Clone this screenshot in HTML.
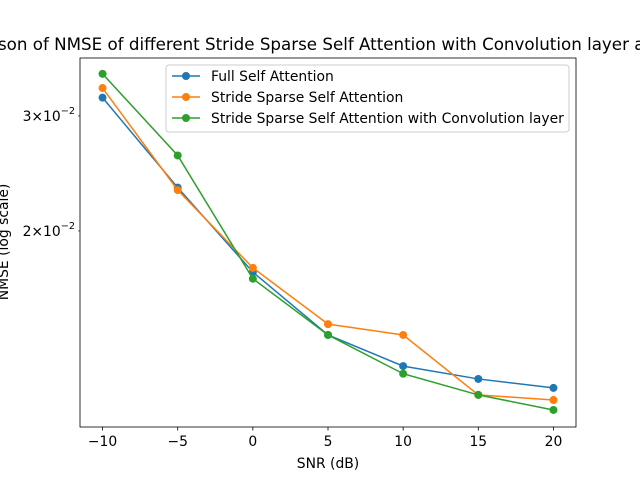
<!DOCTYPE html>
<html><head><meta charset="utf-8"><style>
body{margin:0;background:#fff;}
svg text{font-family:"DejaVu Sans","Liberation Sans",sans-serif;fill:#000;}
</style></head><body>
<svg id="chart" width="640" height="480" xmlns="http://www.w3.org/2000/svg">
<rect width="640" height="480" fill="#fff"/>
<text x="373" y="50" font-size="16.7" text-anchor="middle">Comparison of NMSE of different Stride Sparse Self Attention with Convolution layer and Full Self Attention</text>
<g id="axes"></g>
<g id="series"></g>
<rect x="80" y="58" width="496" height="369" fill="none" stroke="#000" stroke-width="0.8"/>
<text x="328" y="468" font-size="13.9" text-anchor="middle">SNR (dB)</text>
<text transform="translate(8,242) rotate(-90)" font-size="13.9" text-anchor="middle">NMSE (log scale)</text>
<g>
<rect x="166" y="65" width="403" height="67" rx="3" fill="#fff" fill-opacity="0.8" stroke="#ccc"/>
<g id="legend-items"></g>
</g>
</svg>
<script>
const snr = [-10, -5, 0, 5, 10, 15, 20];
const fullSA = [0.0320, 0.0233, 0.0173, 0.01386, 0.01242, 0.01187, 0.0115];
const strideSA = [0.0331, 0.0231, 0.01756, 0.0144, 0.01386, 0.01122, 0.01102];
const strideConv = [0.0348, 0.0261, 0.0169, 0.01386, 0.01209, 0.01122, 0.01064];
const seriesNames = ["Full Self Attention", "Stride Sparse Self Attention", "Stride Sparse Self Attention with Convolution layer"];
const xTicks = [-10, -5, 0, 5, 10, 15, 20];
const yTicks = [0.02, 0.03];
const yTickLabels = ["2", "3"];

const NS = "http://www.w3.org/2000/svg";
const L = 80, R = 576, T = 58, B = 427;
const xMin = -11.5, xMax = 21.5;
const yMin = 0.01002, yMax = 0.0368;
function xs(v){return L + (v - xMin) / (xMax - xMin) * (R - L);}
function ys(v){return B - (Math.log10(v) - Math.log10(yMin)) / (Math.log10(yMax) - Math.log10(yMin)) * (B - T);}
function mk(tag, attrs, parent){const e = document.createElementNS(NS, tag); for (const k in attrs) e.setAttribute(k, attrs[k]); parent.appendChild(e); return e;}

const axes = document.getElementById("axes");
xTicks.forEach(t => {
  const x = xs(t);
  const ln = mk("line", {x1:x, x2:x, y1:B, y2:B+3.5, stroke:"#000", "stroke-width":0.8}, axes);
  
  
  const tx = mk("text", {x:x, y:B+19, "font-size":13.9, "text-anchor":"middle"}, axes);
  tx.textContent = (t < 0 ? "\u2212" + (-t) : String(t));
  
  
});
yTicks.forEach((t, i) => {
  const y = ys(t);
  const ln = mk("line", {x1:L-2, x2:L, y1:y, y2:y, stroke:"#000", "stroke-width":0.6}, axes);
  
  
  const tx = mk("text", {x:L-5, y:y+5, "font-size":13.9, "text-anchor":"end"}, axes);
  tx.innerHTML = yTickLabels[i] + "\u00d710<tspan dy='-7' font-size='9.7'>\u22122</tspan>";
  
  
});

const colors = ["#1f77b4", "#ff7f0e", "#2ca02c"];
const allData = [fullSA, strideSA, strideConv];
const sg = document.getElementById("series");
const names = ["series-full-self-attention", "series-stride-sparse", "series-stride-sparse-conv"];
allData.forEach((data, si) => {
  const g = mk("g", {}, sg);
  
  
  const pts = data.map((v, i) => xs(snr[i]) + "," + ys(v)).join(" ");
  const pl = mk("polyline", {points:pts, fill:"none", stroke:colors[si], "stroke-width":1.5}, g);
  
  
  data.forEach((v, i) => {
    const c = mk("circle", {cx:xs(snr[i]), cy:ys(v), r:4, fill:colors[si]}, g);
    
    
  });
});

const lg = document.getElementById("legend-items");
seriesNames.forEach((n, i) => {
  const y = 76 + i * 21;
  const ln = mk("line", {x1:172, x2:200, y1:y, y2:y, stroke:colors[i], "stroke-width":1.5}, lg);
  
  
  const c = mk("circle", {cx:186, cy:y, r:4, fill:colors[i]}, lg);
  
  
  const tx = mk("text", {x:211, y:y+5, "font-size":13.9}, lg);
  tx.textContent = n;
  
  
});
</script>
</body></html>
